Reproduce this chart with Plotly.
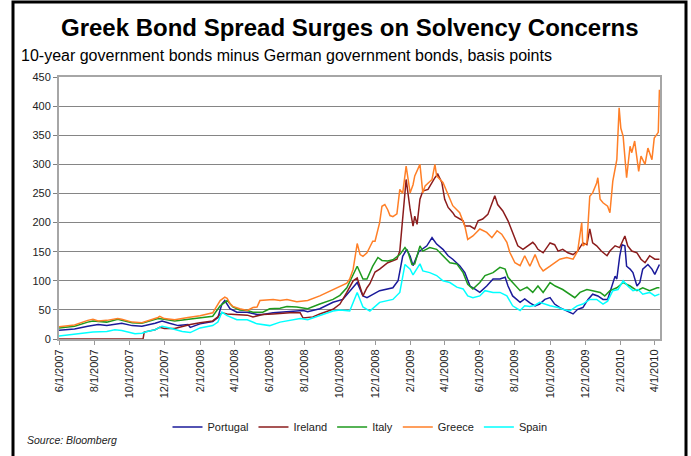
import plotly.graph_objects as go

# ---------------- data (basis points) ----------------
greece_dates = ["2007-06-01","2007-06-28","2007-07-21","2007-07-30","2007-08-08","2007-08-23","2007-09-11","2007-09-18",
"2007-10-06","2007-10-23","2007-11-20","2007-11-23","2007-12-01","2007-12-19","2008-01-11","2008-02-01","2008-02-23",
"2008-03-07","2008-03-15","2008-03-19","2008-03-24","2008-03-29","2008-04-10","2008-04-23","2008-05-03","2008-05-10",
"2008-05-15","2008-06-07","2008-06-19","2008-07-01","2008-07-18","2008-08-06","2008-08-27","2008-09-19","2008-10-01",
"2008-10-13","2008-10-18","2008-10-24","2008-10-31","2008-11-05","2008-11-10","2008-11-17","2008-11-22","2008-11-27",
"2008-12-01","2008-12-09","2008-12-13","2008-12-18","2008-12-23","2008-12-27","2009-01-01","2009-01-08","2009-01-13",
"2009-01-18","2009-01-24","2009-01-27","2009-01-31","2009-02-05","2009-02-08","2009-02-17","2009-02-22","2009-02-26",
"2009-03-10","2009-03-15","2009-03-18","2009-03-29","2009-04-07","2009-04-15","2009-04-27","2009-05-06","2009-05-11",
"2009-05-20","2009-06-01","2009-06-13","2009-06-22","2009-07-01","2009-07-09","2009-07-18","2009-07-23","2009-08-01",
"2009-08-10","2009-08-18","2009-08-27","2009-09-05","2009-09-13","2009-09-19","2009-10-01","2009-10-09","2009-10-18",
"2009-10-30","2009-11-10","2009-11-18","2009-11-25","2009-11-27","2009-12-04","2009-12-09","2009-12-14","2009-12-21",
"2009-12-23","2009-12-27","2010-01-01","2010-01-09","2010-01-13","2010-01-18","2010-01-22","2010-01-25","2010-01-29",
"2010-02-01","2010-02-05","2010-02-11","2010-02-17","2010-02-20","2010-02-25","2010-03-01","2010-03-04","2010-03-08",
"2010-03-15","2010-03-20","2010-03-27","2010-03-31","2010-04-05","2010-04-07","2010-04-09"]
greece_bp = [21,24,32,34,31,32,35,34,29,28,37,39,35,33,37,40,45,66,72,70,61,56,52,49,54,55,66,68,66,68,64,66,74,85,91,
96,103,120,164,145,142,148,158,168,168,200,228,231,222,212,210,215,257,250,297,274,251,265,280,300,251,263,274,300,
280,269,246,229,217,194,171,177,189,183,174,186,180,166,149,131,126,143,125,145,125,117,125,131,137,140,137,151,200,
160,165,245,251,268,277,240,234,228,217,271,297,308,397,362,348,277,331,320,340,314,288,314,300,328,308,345,351,355,428]

ireland_dates = ["2007-06-01","2007-10-25","2007-10-27","2007-11-15","2007-11-23","2007-12-01","2007-12-19","2008-01-01",
"2008-01-15","2008-02-01","2008-02-23","2008-03-03","2008-03-10","2008-03-19","2008-04-05","2008-04-23","2008-05-03",
"2008-05-20","2008-06-07","2008-06-19","2008-07-06","2008-07-24","2008-07-29","2008-08-15","2008-08-27","2008-09-19",
"2008-10-01","2008-10-13","2008-10-24","2008-10-31","2008-11-10","2008-11-17","2008-11-22","2008-12-01","2008-12-09",
"2008-12-23","2009-01-08","2009-01-13","2009-01-18","2009-01-24","2009-01-31","2009-02-05","2009-02-08","2009-02-12",
"2009-02-17","2009-02-22","2009-03-03","2009-03-10","2009-03-15","2009-03-20","2009-03-27","2009-04-01","2009-04-07",
"2009-04-15","2009-04-19","2009-05-03","2009-05-06","2009-05-15","2009-05-23","2009-05-29","2009-06-06","2009-06-15",
"2009-06-22","2009-06-27","2009-07-02","2009-07-11","2009-07-20","2009-07-28","2009-08-06","2009-08-15","2009-08-24",
"2009-09-01","2009-09-05","2009-09-10","2009-09-19","2009-10-01","2009-10-09","2009-10-15","2009-10-23","2009-11-01",
"2009-11-10","2009-11-18","2009-11-27","2009-12-04","2009-12-09","2009-12-14","2009-12-21","2009-12-29","2010-01-08",
"2010-01-13","2010-01-22","2010-01-30","2010-02-08","2010-02-13","2010-02-20","2010-03-01","2010-03-08","2010-03-15",
"2010-03-23","2010-04-01","2010-04-09"]
ireland_bp = [0,0,12,16,20,18,18,22,25,28,31,38,45,43,42,41,38,42,43,44,45,45,36,38,43,51,60,80,100,105,74,88,95,115,
120,131,137,151,205,274,222,194,211,197,240,254,257,269,277,283,269,240,226,217,211,203,194,194,189,203,206,214,231,
246,231,220,203,183,160,154,160,166,162,154,148,165,162,151,154,148,145,151,165,162,189,165,160,151,143,151,160,157,
177,160,151,148,137,131,143,137,137]

italy_dates = ["2007-06-01","2007-06-28","2007-07-21","2007-07-30","2007-08-23","2007-09-11","2007-10-06","2007-10-23",
"2007-11-20","2007-12-01","2007-12-19","2008-01-11","2008-02-01","2008-02-23","2008-03-07","2008-03-19","2008-03-29",
"2008-04-10","2008-04-23","2008-05-03","2008-05-20","2008-06-01","2008-06-19","2008-07-01","2008-07-18","2008-08-06",
"2008-08-27","2008-09-19","2008-10-01","2008-10-13","2008-10-31","2008-11-10","2008-11-17","2008-11-27","2008-12-06",
"2008-12-13","2008-12-23","2009-01-01","2009-01-13","2009-01-22","2009-01-27","2009-02-03","2009-02-08","2009-02-17",
"2009-02-22","2009-03-06","2009-03-18","2009-03-29","2009-04-10","2009-04-22","2009-05-03","2009-05-11","2009-05-20",
"2009-06-01","2009-06-10","2009-06-24","2009-07-06","2009-07-15","2009-07-20","2009-07-28","2009-08-10","2009-08-22",
"2009-09-01","2009-09-10","2009-09-19","2009-10-01","2009-10-10","2009-10-23","2009-11-04","2009-11-13","2009-11-22",
"2009-12-04","2009-12-14","2009-12-27","2010-01-04","2010-01-13","2010-01-25","2010-02-05","2010-02-17","2010-03-01",
"2010-03-11","2010-03-23","2010-04-05","2010-04-09"]
italy_bp = [19,22,29,31,29,34,28,27,35,34,31,34,36,39,57,66,55,50,49,46,46,52,53,56,55,52,60,68,75,88,125,103,103,125,
140,135,134,136,145,157,150,128,129,160,151,157,154,143,131,129,114,94,86,97,109,114,123,120,106,97,83,89,80,91,80,
97,91,85,77,71,80,85,83,80,74,83,88,97,91,83,88,83,88,88]

portugal_dates = ["2007-06-01","2007-06-28","2007-07-21","2007-08-08","2007-08-23","2007-09-18","2007-10-06","2007-10-23",
"2007-11-15","2007-11-27","2007-12-10","2007-12-25","2008-01-11","2008-01-15","2008-02-01","2008-02-23","2008-03-03",
"2008-03-10","2008-03-15","2008-03-24","2008-04-05","2008-04-23","2008-05-10","2008-05-20","2008-06-07","2008-06-19",
"2008-07-11","2008-07-29","2008-08-06","2008-08-27","2008-09-19","2008-10-06","2008-10-31","2008-11-10","2008-11-17",
"2008-12-09","2009-01-01","2009-01-10","2009-01-18","2009-01-25","2009-01-31","2009-02-05","2009-02-15","2009-03-01",
"2009-03-10","2009-03-18","2009-03-29","2009-04-07","2009-04-15","2009-04-27","2009-05-06","2009-05-15","2009-05-23",
"2009-06-01","2009-06-13","2009-06-24","2009-07-06","2009-07-15","2009-07-20","2009-07-28","2009-08-10","2009-08-18",
"2009-08-27","2009-09-05","2009-09-13","2009-09-22","2009-10-01","2009-10-09","2009-10-18","2009-10-30","2009-11-10",
"2009-11-18","2009-11-27","2009-12-06","2009-12-14","2009-12-23","2010-01-01","2010-01-09","2010-01-16","2010-01-22",
"2010-01-25","2010-01-30","2010-02-03","2010-02-08","2010-02-11","2010-02-17","2010-02-22","2010-03-01","2010-03-06",
"2010-03-11","2010-03-20","2010-03-27","2010-04-01","2010-04-06","2010-04-09"]
portugal_bp = [15,17,22,25,23,27,23,22,27,31,27,23,25,20,26,30,37,60,66,52,46,46,42,42,45,46,48,49,47,52,63,68,97,74,
71,83,88,100,142,154,142,126,150,160,174,163,154,143,137,126,114,91,86,80,91,103,103,106,91,74,63,69,62,57,60,68,71,
60,54,48,43,51,54,68,77,74,68,68,88,108,103,142,162,160,125,120,114,91,97,120,128,120,111,123,128]

spain_dates = ["2007-06-01","2007-06-28","2007-07-30","2007-08-23","2007-09-06","2007-09-18","2007-10-11","2007-10-23",
"2007-11-01","2007-11-15","2007-11-27","2007-12-10","2007-12-19","2008-01-01","2008-01-15","2008-02-01","2008-02-23",
"2008-03-03","2008-03-10","2008-03-19","2008-04-05","2008-04-23","2008-05-10","2008-06-01","2008-06-19","2008-07-11",
"2008-07-24","2008-08-06","2008-08-27","2008-09-19","2008-10-01","2008-10-18","2008-10-31","2008-11-10","2008-11-17",
"2008-11-22","2008-12-09","2009-01-01","2009-01-13","2009-01-22","2009-01-31","2009-02-05","2009-02-17","2009-02-22",
"2009-03-06","2009-03-18","2009-03-29","2009-04-10","2009-04-22","2009-05-03","2009-05-11","2009-05-20","2009-06-01",
"2009-06-10","2009-06-24","2009-07-06","2009-07-18","2009-07-28","2009-08-10","2009-08-18","2009-08-27","2009-09-05",
"2009-09-13","2009-09-22","2009-10-01","2009-10-15","2009-10-23","2009-11-04","2009-11-17","2009-11-27","2009-12-09",
"2009-12-21","2010-01-01","2010-01-09","2010-01-18","2010-01-27","2010-02-05","2010-02-13","2010-02-22","2010-03-03",
"2010-03-11","2010-03-23","2010-04-01","2010-04-09"]
spain_bp = [5,8,12,13,16,14.5,9,10,13,16,22,19,16,13,11,19,23,29,46,40,33,33,26,23,29,33,35,33,40,48,50,48,80,55,51,48,
63,68,80,128,120,110,129,117,114,109,100,97,89,86,74,71,74,83,80,80,74,57,49,57,56,58,63,60,57,54,51,48,57,60,68,68,
60,65,83,85,100,91,83,85,77,80,74,77]

tick_dates = ["2007-06-01","2007-08-01","2007-10-01","2007-12-01","2008-02-01","2008-04-01","2008-06-01","2008-08-01",
"2008-10-01","2008-12-01","2009-02-01","2009-04-01","2009-06-01","2009-08-01","2009-10-01","2009-12-01","2010-02-01",
"2010-04-01"]
tick_labels = ["6/1/2007","8/1/2007","10/1/2007","12/1/2007","2/1/2008","4/1/2008","6/1/2008","8/1/2008","10/1/2008",
"12/1/2008","2/1/2009","4/1/2009","6/1/2009","8/1/2009","10/1/2009","12/1/2009","2/1/2010","4/1/2010"]

series = [
    ("Portugal", portugal_dates, portugal_bp, "#1A1A9A"),
    ("Ireland", ireland_dates, ireland_bp, "#8B1C1C"),
    ("Italy", italy_dates, italy_bp, "#1E9A1E"),
    ("Greece", greece_dates, greece_bp, "#FF7F27"),
    ("Spain", spain_dates, spain_bp, "#00FFFF"),
]

# ---------------- figure ----------------
W, H = 691, 456
ML, MR, MT, MB = 59, 31, 77, 117
PW, PH = W - ML - MR, H - MT - MB

def px(x):
    return (x - ML) / PW

def py(y):
    return (H - MB - y) / PH

fig = go.Figure()
for name, d, v, c in series:
    fig.add_trace(go.Scatter(x=d, y=v, mode="lines", name=name,
                             line=dict(color=c, width=1.5)))

font = "Liberation Sans, Arial, sans-serif"
fig.update_layout(
    width=W, height=H,
    margin=dict(l=ML, r=MR, t=MT, b=MB),
    paper_bgcolor="white", plot_bgcolor="white",
    font=dict(family=font, size=11, color="#222222"),
    showlegend=True,
    legend=dict(orientation="h", x=px(360), xanchor="center", y=py(427), yanchor="middle",
                font=dict(size=11, color="#222222"), bgcolor="rgba(0,0,0,0)",
                itemwidth=30, tracegroupgap=0),
    xaxis=dict(type="date", range=["2007-06-01", "2010-04-10"],
               tickmode="array", tickvals=tick_dates, ticktext=tick_labels,
               tickangle=-90, ticks="outside", ticklen=4, tickcolor="#999999",
               showgrid=False, showline=True, linecolor="#A6A6A6", linewidth=2,
               mirror=True, zeroline=False, tickfont=dict(size=11, color="#222222")),
    yaxis=dict(range=[0, 450], dtick=50, tick0=0, ticks="outside", ticklen=4,
               tickcolor="#808080", showgrid=True, gridcolor="#858585", gridwidth=1,
               showline=True, linecolor="#A6A6A6", linewidth=2, mirror=True,
               zeroline=False, tickfont=dict(size=11, color="#222222")),
    annotations=[
        dict(text="<b>Greek Bond Spread Surges on Solvency Concerns</b>", xref="paper", yref="paper",
             x=px(350), y=py(28), xanchor="center", yanchor="middle", showarrow=False,
             font=dict(size=24, color="#000000", family=font)),
        dict(text="10-year government bonds minus German government bonds, basis points", xref="paper",
             yref="paper", x=px(19), y=py(56), xanchor="left", yanchor="middle", showarrow=False,
             font=dict(size=16, color="#000000", family=font)),
        dict(text="<i>Source: Bloomberg</i>", xref="paper", yref="paper", x=px(25), y=py(440),
             xanchor="left", yanchor="middle", showarrow=False,
             font=dict(size=10.5, color="#222222", family=font)),
    ],
    shapes=[
        dict(type="rect", xref="paper", yref="paper", x0=px(13), x1=px(686), y0=py(480), y1=py(2),
             line=dict(color="#000000", width=3), fillcolor="rgba(0,0,0,0)", layer="above"),
    ],
)

fig.write_html("out.html")
